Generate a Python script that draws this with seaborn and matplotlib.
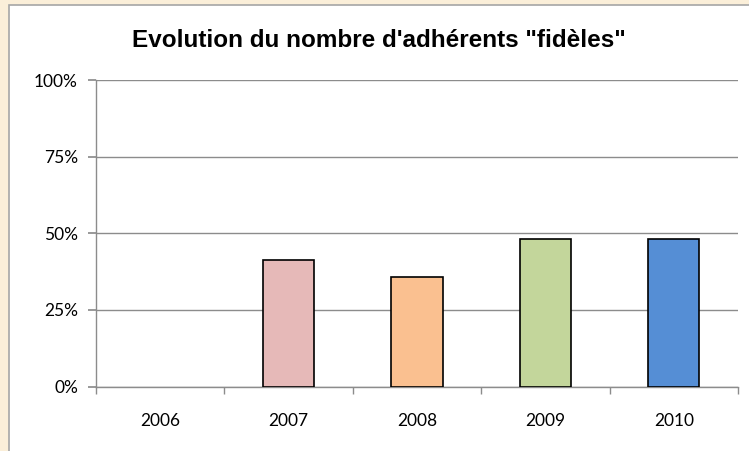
import pandas as pd
import matplotlib.pyplot as plt
import matplotlib.patches as mpatches
from matplotlib.ticker import PercentFormatter, FixedLocator
import seaborn as sns

years = ["2006", "2007", "2008", "2009", "2010"]
fideles = [0.0, 41.3, 35.8, 48.0, 48.0]
colors = ["#E6B9B8", "#E6B9B8", "#FAC090", "#C3D69B", "#558ED5"]


def PlotFideles():
    df = pd.DataFrame({"annee": years, "pct": fideles})
    sns.set_theme(style="white")
    plt.rcParams["font.family"] = ["Lato", "DejaVu Sans"]

    fig = plt.figure(figsize=(7.49, 4.51), dpi=100)
    fig.patch.set_facecolor("#FBEFD9")
    # white chart panel with a thin grey frame
    panel = mpatches.Rectangle((9 / 749, -0.01), 1.0, (451 - 5) / 451 + 0.01,
                               transform=fig.transFigure, facecolor="white",
                               edgecolor="#A6A6A6", linewidth=1.2, zorder=-1)
    fig.patches.append(panel)

    ax = fig.add_axes([96 / 749, (451 - 386.5) / 451, (738 - 96) / 749, (386.5 - 80) / 451])
    ax.set_zorder(1)
    ax.set_facecolor("none")
    sns.barplot(data=df, x="annee", y="pct", hue="annee", palette=colors, legend=False,
                saturation=1, width=0.4, edgecolor="black", linewidth=1.2, ax=ax, zorder=3)
    for p in ax.patches:
        if p.get_height() == 0:
            p.set_linewidth(0)

    ax.set_ylim(0, 100)
    ax.set_xlim(-0.5, 4.5)
    ax.set_yticks([0, 25, 50, 75, 100])
    ax.yaxis.set_major_formatter(PercentFormatter(decimals=0))
    ax.yaxis.grid(True, color="#8C8C8C", linewidth=1.0, zorder=0)
    ax.set_axisbelow(True)

    for s in ["top", "right"]:
        ax.spines[s].set_visible(False)
    for s in ["left", "bottom"]:
        ax.spines[s].set_color("#8C8C8C")
        ax.spines[s].set_linewidth(1.0)

    ax.tick_params(axis="y", which="major", left=True, length=6, color="#8C8C8C",
                   labelsize=12.5, pad=7, labelcolor="black")
    ax.tick_params(axis="x", which="major", bottom=False, labelsize=12.5, pad=13,
                   labelcolor="black")
    ax.xaxis.set_minor_locator(FixedLocator([-0.5, 0.5, 1.5, 2.5, 3.5, 4.5]))
    ax.tick_params(axis="x", which="minor", bottom=True, length=5, color="#8C8C8C", width=1.0)

    ax.set_xlabel("")
    ax.set_ylabel("")
    fig.text(379 / 749, (451 - 47) / 451, "Evolution du nombre d'adhérents \"fidèles\"",
             ha="center", va="baseline", fontsize=17.5, fontweight="bold", color="black",
             family=["Liberation Sans", "DejaVu Sans"])

    plt.savefig("out.png", dpi=100, facecolor=fig.get_facecolor())


if __name__ == "__main__":
    PlotFideles()
